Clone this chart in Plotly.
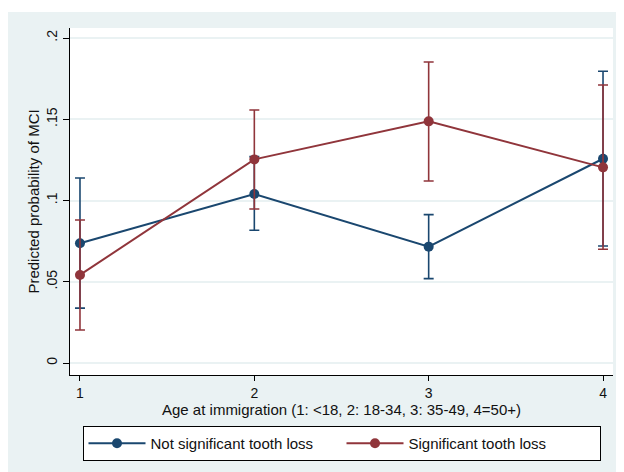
import plotly.graph_objects as go

categories = [1, 2, 3, 4]
tick_labels = ["1", "2", "3", "4"]

not_sig = [0.0737, 0.104, 0.0716, 0.1257]
not_sig_lo = [0.0338, 0.0817, 0.0519, 0.072]
not_sig_hi = [0.1138, 0.127, 0.0913, 0.1795]

sig = [0.0542, 0.1253, 0.1487, 0.1204]
sig_lo = [0.0203, 0.0948, 0.112, 0.070]
sig_hi = [0.088, 0.1557, 0.1852, 0.1711]

y_ticks = [0, 0.05, 0.1, 0.15, 0.2]
y_tick_labels = ["0", ".05", ".1", ".15", ".2"]

BLUE = "#1a476f"
RED = "#90353b"
BG = "#eaf2f3"
FONT = "Liberation Sans, Arial, sans-serif"

fig = go.Figure()


def add_series(name, y, lo, hi, color):
    fig.add_trace(go.Scatter(
        x=categories, y=y, name=name, mode="lines+markers",
        line=dict(color=color, width=2),
        marker=dict(color=color, size=10),
        error_y=dict(type="data", symmetric=False,
                     array=[h - v for h, v in zip(hi, y)],
                     arrayminus=[v - l for v, l in zip(y, lo)],
                     color=color, thickness=1.6, width=5),
    ))


add_series("Not significant tooth loss", not_sig, not_sig_lo, not_sig_hi, BLUE)
add_series("Significant tooth loss", sig, sig_lo, sig_hi, RED)

# the page adds an 8px body margin, so the figure is 616x464 placed at (8, 8)
W, H = 616, 464
L, R, T, B = 62, 11, 20, 97
pw, ph = W - L - R, H - T - B


def px(xp):
    return (xp - L) / pw


def py(yp):
    return (H - B - yp) / ph


shapes = [
    dict(type="rect", xref="paper", yref="paper", x0=px(-5), x1=px(W + 5),
         y0=py(4), y1=py(-5), fillcolor="white", line_width=0, layer="below"),
]

fig.update_layout(
    width=W, height=H,
    margin=dict(l=L, r=R, t=T, b=B, autoexpand=False),
    paper_bgcolor=BG, plot_bgcolor="white",
    font=dict(family=FONT, size=14, color="#111"),
    shapes=shapes,
    showlegend=True,
    legend=dict(orientation="h", x=px(341.5 - 8), xanchor="center", y=py(418), yanchor="top",
                bgcolor="white", bordercolor="black", borderwidth=1,
                font=dict(size=15), itemwidth=57, entrywidth=186, entrywidthmode="pixels"),
    xaxis=dict(range=[1 - 10 / 174.7, 4 + 10 / 174.7], tickvals=categories,
               ticktext=tick_labels, ticks="outside", ticklen=5, tickcolor="black",
               showline=True, linecolor="black", linewidth=1, showgrid=False,
               zeroline=False, automargin=False,
               title=dict(text="Age at immigration (1: <18, 2: 18-34, 3: 35-49, 4=50+)",
                          standoff=2, font=dict(size=15))),
    yaxis=dict(range=[-12 / 1625, 335 / 1625], tickvals=y_ticks, ticktext=y_tick_labels,
               tickangle=-90, ticks="outside", ticklen=6, tickcolor="black",
               showline=True, linecolor="black", linewidth=1, automargin=False,
               showgrid=True, gridcolor=BG, gridwidth=1.5, zeroline=False,
               title=dict(text="Predicted probability of MCI", standoff=1,
                          font=dict(size=15))),
)

fig.write_html("out.html")
